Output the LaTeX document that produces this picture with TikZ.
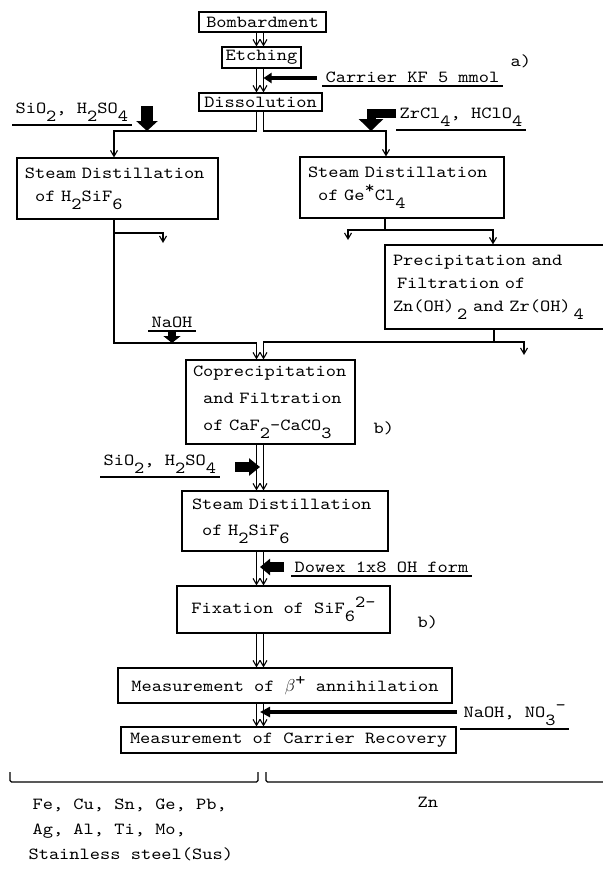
\documentclass[tikz,border=0pt]{standalone}
\usepackage{fontspec}
\usetikzlibrary{arrows.meta}
\newfontfamily\typer{lmmono10-regular.otf}[FakeStretch=1.15]
\newcommand\tsub[1]{\raisebox{-8bp}{#1}}
\newcommand\tsup[1]{\raisebox{6.5bp}{#1}}
\newcommand\ind{\hspace*{0.6em}}
\begin{document}
\begin{tikzpicture}[x=1bp, y=-1bp, line width=1.1bp,
    >={Straight Barb[length=6bp,width=7bp]},
    every node/.style={font=\typer\fontsize{17}{23}\selectfont},
    box/.style={draw, inner sep=0pt},
    txtbox/.style={draw, inner ysep=0pt, align=left},
    lbl/.style={inner xsep=3bp, inner ysep=3bp, anchor=base west}]
  \path[use as bounding box] (0,0) rectangle (603,871);
  \clip (0,0) rectangle (603,871);

  \node[box, minimum width=127bp, minimum height=20bp] (bomb) at (262.5, 22) {Bombardment};
  \node[box, minimum width=79bp, minimum height=21bp] (etch) at (261.5, 57.5) {Etching};
  \node[box, minimum width=123bp, minimum height=18bp] (diss) at (260.5, 102) {Dissolution};
  \node[txtbox, inner xsep=8bp, text width=185bp, minimum height=61bp] (dist1) at (117.5, 188.5)
    {Steam Distillation\\\ind of H\tsub2SiF\tsub6};
  \node[txtbox, inner xsep=8bp, text width=188bp, minimum height=61bp] (dist2) at (402, 187.5)
    {Steam Distillation\\\ind of Ge\tsup*Cl\tsub4};
  \node[txtbox, inner xsep=8bp, text width=214bp, minimum height=84bp] (prec) at (500, 287)
    {Precipitation and\\\hspace*{4bp}Filtration of\\Zn(OH)\,\tsub2 and Zr(OH)\,\tsub4};
  \node[txtbox, inner xsep=7bp, text width=155bp, minimum height=84bp] (copr) at (270.5, 402)
    {Coprecipitation\\[4bp]\ind and Filtration\\[4bp]\ind of CaF\tsub2-CaCO\tsub3};
  \node[txtbox, inner xsep=10bp, text width=186bp, minimum height=60bp] (dist3) at (285, 521)
    {Steam Distillation\\[3bp]\ind of H\tsub2SiF\tsub6};
  \node[box, minimum width=213bp, minimum height=47bp] (fix) at (283.5, 609.5) {Fixation of SiF\tsub6\tsup{2-}};
  \node[box, minimum width=334bp, minimum height=35bp] (beta) at (285, 685.5)
    {Measurement of \ensuremath{\beta}\tsup{+} annihilation};
  \node[box, minimum width=335bp, minimum height=26bp] (reco) at (288.5, 740) {Measurement of Carrier Recovery};

  \node[lbl] (carrier) at (322, 82) {Carrier KF 5 mmol};
  \node[lbl] (ra) at (507, 66) {a)};
  \node[lbl] (sio2a) at (12, 113) {SiO\tsub2, H\tsub2SO\tsub4};
  \node[lbl] (zr) at (396, 118) {ZrCl\tsub4, HClO\tsub4};
  \node[lbl, anchor=base] (naoh) at (172, 327) {NaOH};
  \node[lbl] (rb1) at (370, 433) {b)};
  \node[lbl] (sio2b) at (100, 465) {SiO\tsub2, H\tsub2SO\tsub4};
  \node[lbl] (dowex) at (291, 572) {Dowex 1x8 OH form};
  \node[lbl] (rb2) at (414, 627) {b)};
  \node[lbl] (naoh2) at (460, 717) {NaOH, NO\tsub3\tsup{-}};
  \node[lbl] (met1) at (29, 809) {Fe, Cu, Sn, Ge, Pb,};
  \node[lbl] (met2) at (29, 834) {Ag, Al, Ti, Mo,};
  \node[lbl] (met3) at (25, 859) {Stainless steel(Sus)};
  \node[lbl] (zn) at (414, 807) {Zn};

  \coordinate (l) at (256.5, 0);
  \coordinate (r) at (263.5, 0);
  \coordinate (m) at (260, 0);
  \coordinate (cl) at (114, 0);
  \coordinate (cr) at (386, 0);
  \coordinate (cp) at (493, 0);
  \coordinate (jl) at (256.5, 131);
  \coordinate (jr) at (263.5, 131);
  \coordinate (jm) at (256.5, 343);
  \coordinate (s1) at (114, 233);
  \coordinate (w1) at (163, 243);
  \coordinate (s2) at (385, 230);
  \coordinate (w2) at (348, 240);
  \coordinate (s3) at (494, 342);
  \coordinate (w3) at (524, 355);

  % double flow lines down the middle
  \foreach \a/\b in {bomb/etch, etch/diss, copr/dist3, dist3/fix, fix/beta, beta/reco} {
    \draw[->] (\a.south -| l) -- (\b.north -| l);
    \draw[->] (\a.south -| r) -- (\b.north -| r);
  }
  \draw[->] (diss.south -| l) -- (jl) -| (dist1.north -| cl);
  \draw[->] (diss.south -| r) -- (jr) -| (dist2.north -| cr);
  \draw[->] (dist1.south -| cl) |- (jm) -- (copr.north -| l);
  \draw[->] (s1) -| (w1);
  \draw (dist2.south -| s2) -- (s2);
  \draw[->] (s2) -| (w2);
  \draw[->] (s2) -| (prec.north -| cp);
  \draw (prec.south -| s3) -- (s3);
  \draw[->] (s3) -| (w3);
  \draw[->] (s3) -| (copr.north -| r);

  % reagents
  \coordinate (kf) at (317, 78);
  \coordinate (sa) at (147, 106);
  \coordinate (zt) at (396, 113);
  \coordinate (zh) at (371, 131);
  \coordinate (sb) at (235, 467);
  \coordinate (dw) at (284, 567);
  \coordinate (nn) at (457, 712);
  \draw[line width=3.5bp, -{Triangle[length=8bp,width=10bp]}] (kf) -- (kf -| r);
  \draw[line width=12bp, -{Triangle[length=10bp,width=21bp]}] (sa) -- (sa |- jl);
  \draw[line width=9bp, line join=miter, -{Triangle[length=12bp,width=24bp]}] (zt) -| (zh);
  \draw[line width=8bp, -{Triangle[length=7bp,width=17bp]}] (naoh.south) -- (naoh.south |- jm);
  \draw[line width=10bp, -{Triangle[length=11bp,width=17bp]}] (sb) -- (sb -| m);
  \draw[line width=10bp, -{Triangle[length=10bp,width=16bp]}] (dw) -- (dw -| m);
  \draw[line width=3.5bp, -{Triangle[length=10bp,width=10bp]}] (nn) -- (nn -| m);
  \foreach \n in {carrier, sio2a, zr, naoh, sio2b, dowex, naoh2}
    \draw[line width=2bp] (\n.south west) -- (\n.south east);

  % groups of samples
  \draw[rounded corners=1.5bp] (10, 772) |- (258, 782) -- (258, 772);
  \draw[rounded corners=1.5bp] (266, 772) |- (610, 782);
\end{tikzpicture}
\end{document}
